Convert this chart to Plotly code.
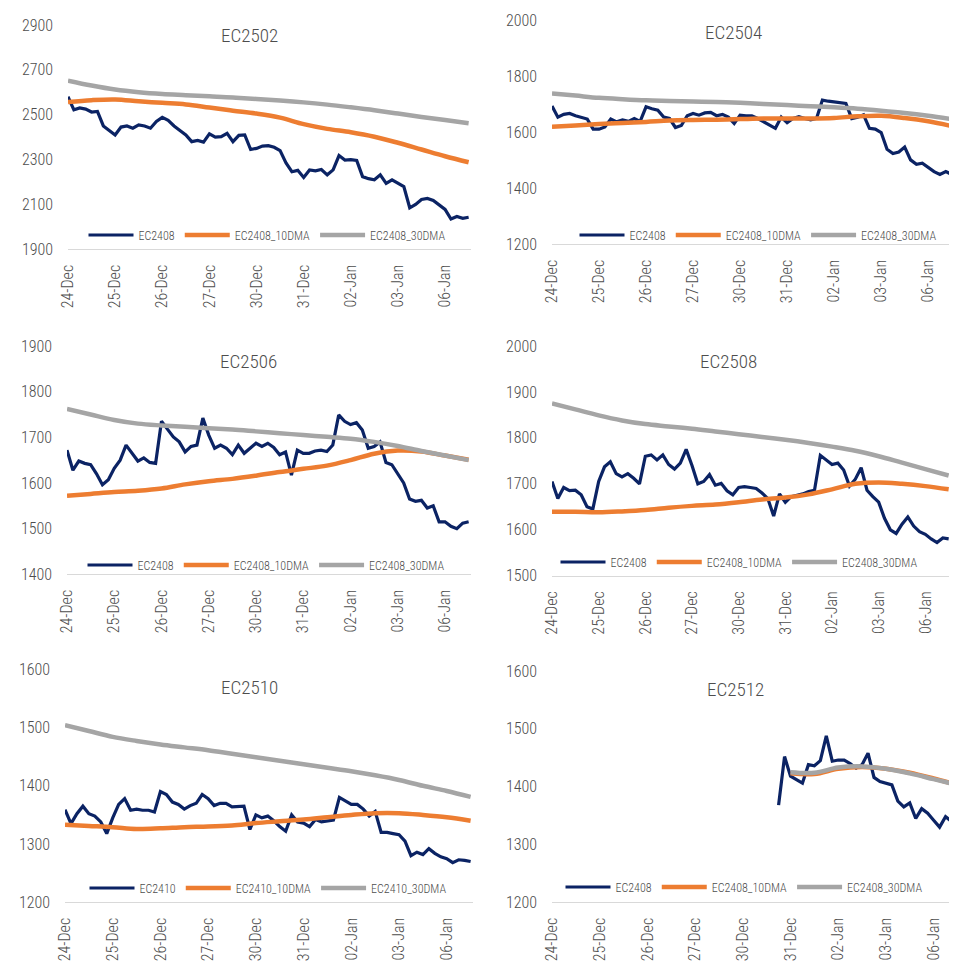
import plotly.graph_objects as go

# category labels on the x axis (one per trading day)
days = ["24-Dec", "25-Dec", "26-Dec", "27-Dec", "30-Dec", "31-Dec", "02-Jan", "03-Jan", "06-Jan"]

# intraday prices, 8 readings per day (0 .. 8.5 days)
ec2502_px = [2580, 2522, 2530, 2525, 2512, 2515, 2450, 2430, 2410, 2445, 2450, 2440, 2455, 2450, 2440, 2470,
             2488, 2475, 2450, 2430, 2410, 2380, 2385, 2378, 2415, 2400, 2402, 2417, 2380, 2408, 2410, 2345,
             2350, 2360, 2362, 2355, 2340, 2285, 2246, 2252, 2220, 2254, 2250, 2256, 2232, 2254, 2318, 2298,
             2300, 2296, 2224, 2215, 2210, 2232, 2194, 2210, 2195, 2180, 2085, 2100, 2122, 2127, 2118, 2098,
             2078, 2035, 2046, 2038, 2043]
ec2504_px = [1695, 1655, 1665, 1668, 1660, 1655, 1648, 1612, 1612, 1620, 1648, 1638, 1645, 1640, 1650, 1640,
             1692, 1685, 1680, 1655, 1650, 1618, 1625, 1660, 1668, 1662, 1670, 1672, 1660, 1665, 1655, 1632,
             1662, 1660, 1660, 1650, 1639, 1625, 1615, 1655, 1635, 1650, 1657, 1650, 1645, 1650, 1716, 1712,
             1710, 1706, 1704, 1650, 1655, 1663, 1615, 1612, 1600, 1540, 1525, 1530, 1548, 1502, 1486, 1490,
             1476, 1460, 1450, 1460, 1450]
ec2506_px = [1672, 1628, 1648, 1643, 1640, 1620, 1596, 1607, 1632, 1650, 1683, 1665, 1648, 1655, 1645, 1643,
             1735, 1718, 1701, 1690, 1668, 1680, 1683, 1742, 1705, 1676, 1683, 1676, 1662, 1683, 1665, 1676,
             1687, 1680, 1687, 1678, 1662, 1668, 1617, 1672, 1665, 1665, 1670, 1672, 1669, 1683, 1749, 1735,
             1728, 1732, 1716, 1676, 1680, 1690, 1645, 1640, 1620, 1600, 1565, 1560, 1562, 1545, 1550, 1515,
             1515, 1505, 1500, 1512, 1515]
ec2508_px = [1705, 1668, 1692, 1685, 1686, 1676, 1650, 1645, 1705, 1737, 1748, 1722, 1715, 1722, 1712, 1700,
             1760, 1763, 1752, 1763, 1742, 1732, 1745, 1775, 1740, 1700, 1705, 1720, 1697, 1701, 1685, 1676,
             1692, 1694, 1692, 1690, 1680, 1668, 1630, 1678, 1660, 1672, 1675, 1678, 1683, 1686, 1762, 1752,
             1742, 1745, 1730, 1695, 1710, 1735, 1686, 1672, 1660, 1625, 1600, 1592, 1612, 1628, 1608, 1596,
             1590, 1580, 1572, 1582, 1580]
ec2510_px = [1359, 1335, 1352, 1365, 1352, 1348, 1338, 1318, 1345, 1368, 1378, 1358, 1360, 1358, 1358, 1355,
             1390, 1385, 1372, 1368, 1360, 1366, 1370, 1385, 1378, 1366, 1370, 1370, 1364, 1365, 1365, 1325,
             1350, 1345, 1348, 1340, 1330, 1322, 1350, 1338, 1336, 1330, 1342, 1338, 1340, 1341, 1380, 1374,
             1368, 1368, 1360, 1348, 1356, 1320, 1320, 1318, 1316, 1305, 1280, 1286, 1282, 1292, 1284, 1278,
             1275, 1268, 1273, 1272, 1270]
ec2512_px = [None] * 38 + [1368, 1452, 1418, 1412, 1406, 1438, 1436, 1445, 1488, 1444,
                           1446, 1446, 1440, 1432, 1438, 1458, 1416, 1409, 1406, 1403, 1375, 1365, 1372, 1345,
                           1362, 1354, 1342, 1330, 1348, 1340, 1337]

# moving averages, one reading per half day
ec2502_ma10 = [2557, 2565, 2568, 2560, 2553, 2546, 2532, 2518, 2505, 2487, 2458, 2437, 2422, 2402, 2375, 2345, 2315, 2288]
ec2502_ma30 = [2652, 2630, 2612, 2600, 2592, 2587, 2582, 2577, 2570, 2563, 2555, 2545, 2533, 2520, 2505, 2490, 2476, 2462]
ec2504_ma10 = [1621, 1625, 1630, 1634, 1638, 1643, 1645, 1646, 1648, 1650, 1650, 1650, 1652, 1658, 1660, 1652, 1640, 1623]
ec2504_ma30 = [1740, 1732, 1724, 1719, 1715, 1713, 1711, 1709, 1706, 1702, 1698, 1694, 1690, 1685, 1678, 1670, 1660, 1648]
ec2506_ma10 = [1572, 1576, 1580, 1583, 1588, 1597, 1604, 1609, 1616, 1624, 1631, 1638, 1650, 1664, 1671, 1669, 1660, 1651]
ec2506_ma30 = [1762, 1750, 1738, 1730, 1726, 1723, 1720, 1717, 1713, 1709, 1705, 1701, 1697, 1690, 1681, 1670, 1660, 1650]
ec2508_ma10 = [1639, 1639, 1638, 1640, 1643, 1648, 1652, 1655, 1660, 1666, 1670, 1677, 1688, 1700, 1703, 1700, 1695, 1688]
ec2508_ma30 = [1875, 1862, 1849, 1838, 1830, 1825, 1820, 1814, 1808, 1802, 1796, 1789, 1781, 1772, 1760, 1746, 1732, 1718]
ec2510_ma10 = [1333, 1331, 1329, 1326, 1327, 1329, 1330, 1332, 1336, 1339, 1342, 1346, 1350, 1353, 1353, 1350, 1346, 1340]
ec2510_ma30 = [1504, 1494, 1484, 1477, 1471, 1466, 1461, 1455, 1449, 1443, 1437, 1431, 1425, 1418, 1410, 1400, 1391, 1381]
ec2512_ma10 = [None] * 10 + [1423, 1422, 1431, 1434, 1431, 1424, 1414, 1403]
ec2512_ma30 = [None] * 10 + [1425, 1424, 1433, 1435, 1431, 1423, 1413, 1403]

FONT = "Roboto Condensed, Roboto, sans-serif"
GREY_TXT = "#4D4D4D"
NAVY = "#0B2364"
ORANGE = "#ED7D31"
GREY = "#A5A5A5"

# the page body has an 8px margin, so the figure is drawn 8px in from the corner
OFF = 8
W, H = 957 - OFF, 966 - OFF


def fx(x):
    return (x - OFF) / W


def fy(y):
    return (H - (y - OFF)) / H


panels = [
    # title, series name, price, ma10, ma30, yrange, ytick step, x px domain, y px (top, bottom), xmax, title pos, legend pos
    ("EC2502", "EC2408", ec2502_px, ec2502_ma10, ec2502_ma30, (1900, 2900), 200, (68, 471), (25, 249.3), 8.55, (249, 36), (267, 235)),
    ("EC2504", "EC2408", ec2504_px, ec2504_ma10, ec2504_ma30, (1200, 2000), 200, (552, 955), (20.7, 244.3), 8.57, (733, 32), (758, 235)),
    ("EC2506", "EC2408", ec2506_px, ec2506_ma10, ec2506_ma30, (1400, 1900), 100, (67, 471), (346, 574.3), 8.55, (248, 361), (266, 565)),
    ("EC2508", "EC2408", ec2508_px, ec2508_ma10, ec2508_ma30, (1500, 2000), 100, (552, 951), (346, 575.7), 8.55, (728, 361), (739, 562)),
    ("EC2510", "EC2410", ec2510_px, ec2510_ma10, ec2510_ma30, (1200, 1600), 100, (65, 473), (669.3, 902.3), 8.55, (249, 687), (268, 888)),
    ("EC2512", "EC2408", ec2512_px, ec2512_ma10, ec2512_ma30, (1200, 1600), 100, (552, 957), (671, 902.3), 8.49, (735, 689), (744, 887)),
]

fig = go.Figure()
layout = {}
annotations = []

for k, (title, name, px, ma10, ma30, yr, step, xd, yd, xmax, tpos, lpos) in enumerate(panels):
    n = k + 1
    xa = "x" if n == 1 else f"x{n}"
    ya = "y" if n == 1 else f"y{n}"
    lg = "legend" if n == 1 else f"legend{n}"

    fig.add_trace(go.Scatter(x=[i / 8 for i in range(len(px))], y=px, mode="lines", name=name,
                             line=dict(color=NAVY, width=3.2), xaxis=xa, yaxis=ya, legend=lg))
    fig.add_trace(go.Scatter(x=[i / 2 for i in range(len(ma10))], y=ma10, mode="lines", name=name + "_10DMA",
                             line=dict(color=ORANGE, width=4.5, shape="spline"), xaxis=xa, yaxis=ya, legend=lg))
    fig.add_trace(go.Scatter(x=[i / 2 for i in range(len(ma30))], y=ma30, mode="lines", name=name + "_30DMA",
                             line=dict(color=GREY, width=4.5, shape="spline"), xaxis=xa, yaxis=ya, legend=lg))

    xkey = "xaxis" if n == 1 else f"xaxis{n}"
    ykey = "yaxis" if n == 1 else f"yaxis{n}"
    layout[xkey] = dict(
        domain=[fx(xd[0]), min(fx(xd[1]), 1)], anchor=ya, range=[0, xmax],
        tickvals=list(range(len(days))), ticktext=days, tickangle=-90,
        tickfont=dict(family=FONT, size=16, color=GREY_TXT, weight=300),
        showgrid=False, zeroline=False, showline=True, linecolor="#D9D9D9", linewidth=1.3,
        ticks="", ticklabelstandoff=8, automargin=False,
    )
    layout[ykey] = dict(
        domain=[fy(yd[1]), fy(yd[0])], anchor=xa, range=list(yr),
        tickvals=list(range(yr[0], yr[1] + 1, step)),
        tickfont=dict(family=FONT, size=16, color=GREY_TXT, weight=300),
        showgrid=False, zeroline=False, showline=False, ticks="", ticklabelstandoff=14, automargin=False,
    )
    layout[lg] = dict(
        orientation="h", x=fx(lpos[0]), y=fy(lpos[1]), xanchor="center", yanchor="middle",
        font=dict(family=FONT, size=12, color=GREY_TXT, weight=300), bgcolor="rgba(0,0,0,0)",
        itemwidth=45, tracegroupgap=0,
    )
    annotations.append(dict(
        text=title, x=fx(tpos[0]), y=fy(tpos[1]), xref="paper", yref="paper",
        xanchor="center", yanchor="middle", showarrow=False,
        font=dict(family=FONT, size=19, color=GREY_TXT, weight=300),
    ))

fig.update_layout(
    width=W, height=H,
    margin=dict(l=0, r=0, t=0, b=0, autoexpand=False),
    paper_bgcolor="white", plot_bgcolor="white",
    annotations=annotations,
    **layout,
)

fig.write_html("out.html")
